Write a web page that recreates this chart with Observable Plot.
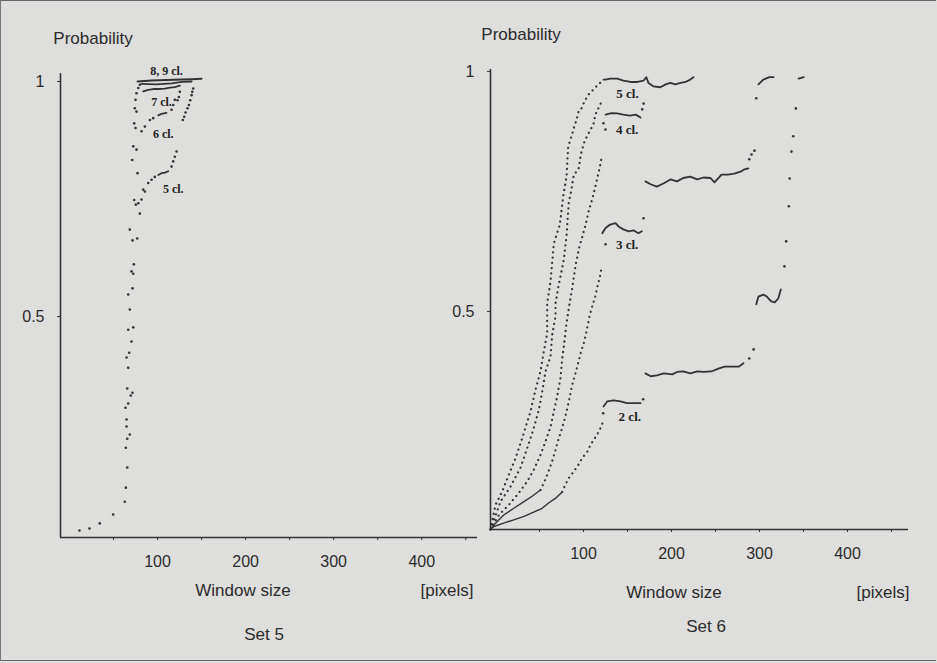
<!DOCTYPE html>
<html><head><meta charset="utf-8">
<script src="https://cdn.jsdelivr.net/npm/d3@7"></script>
<script src="https://cdn.jsdelivr.net/npm/@observablehq/plot@0.6"></script>
<style>
body{margin:0;background:#dededc;}
#page{position:relative;width:935px;height:659px;overflow:hidden;background:#dededc;font-family:"Liberation Sans",Arial,sans-serif;color:#2b2b2b;border-top:1px solid #666;border-left:1px solid #777;border-bottom:1px solid #666;}
#page svg{position:absolute;top:0;}
.lbl{position:absolute;transform:translate(-50%,-50%);font-size:17px;white-space:nowrap;}
</style></head><body><div id="page"></div>
<script>
// ---------- Set 5 (left panel), window size [pixels] vs probability ----------
const s5Stem = [[17,0.045],[28.4,0.049],[40.1,0.06],[55.3,0.079],[68.5,0.106],[69.7,0.136],[71.3,0.179],[69.7,0.221],[71.3,0.24],[74.2,0.249],[70.5,0.266],[70.5,0.281],[69.3,0.306],[72.4,0.315],[75.3,0.332],[77.3,0.338],[71.3,0.347],[72.4,0.391],[70.5,0.413],[73.5,0.423],[76.1,0.447],[72.4,0.472],[78.1,0.477],[74.2,0.515],[72.4,0.547],[77.3,0.56],[78.1,0.591],[76.1,0.596],[78.8,0.611],[77.3,0.662],[82.6,0.666],[74.2,0.685],[85.6,0.719],[81,0.738],[87.5,0.749],[83.8,0.741],[79.2,0.748],[83,0.805],[76.9,0.833],[81.8,0.855],[78.1,0.862],[80.7,0.901],[79.2,0.911],[81.8,0.936],[79.9,0.943],[80.7,0.961],[81.8,0.975],[83.8,0.986],[85.6,0.993]];
const s5Dots5 = [[89.4,0.770],[91.3,0.766],[95.1,0.784],[98.9,0.791],[102.6,0.797],[121.6,0.819],[123.5,0.83],[125.3,0.84],[127.3,0.851]];
const s5Line5 = [[106.5,0.801],[110.2,0.805],[114,0.806],[117.8,0.809]];
const s5Dots6 = [[87.5,0.894],[91.3,0.904],[97,0.918],[100.8,0.922],[121.6,0.94],[123.5,0.95],[125.3,0.961]];
const s5Line6 = [[106.5,0.928],[110.2,0.931],[115.9,0.933]];
const s5Line7 = [[89.4,0.979],[95.1,0.982],[100.8,0.984],[106.5,0.984],[114,0.985],[119.7,0.987],[125.3,0.988],[131,0.991]];
const s5Line8 = [[87.5,0.995],[104.5,0.994],[121.6,0.996],[133,0.999],[144.3,1.0]];
const s5Line9 = [[83,1.0],[98.9,1.002],[115.9,1.003],[133,1.004],[144.3,1.005],[155.7,1.006]];
const s5DotsRight = [[146.2,0.985],[145.1,0.978],[144.3,0.971],[142.8,0.96],[141.3,0.95],[139.8,0.943],[137.5,0.934],[136,0.925],[134.4,0.918],[131,0.978],[129.9,0.967],[128.4,0.96]];
const s5Labels = [["8, 9 cl.",115.9,1.021],["7 cl.",110.2,0.957],["6 cl.",112.2,0.889],["5 cl.",123.5,0.770]];

// ---------- Set 6 (right panel) ----------
const s6Rise1 = [[0,0.046],[5.7,0.097],[13.3,0.125],[20.8,0.160],[28.4,0.194],[36,0.236],[45.5,0.292],[51.1,0.337],[56.8,0.375],[60.6,0.417],[64.4,0.455],[64.4,0.517],[68.2,0.5625],[72,0.642],[78.8,0.681],[82.6,0.74],[86.4,0.781],[88.3,0.844],[90.9,0.858],[94.7,0.882],[97.7,0.899],[100.3,0.918],[103.4,0.923],[106.8,0.9375],[111.4,0.952],[114.8,0.958],[118.2,0.965],[123.9,0.975],[128.4,0.983]];
const s6Rise2 = [[0,0.046],[11.4,0.104],[22.7,0.135],[34,0.174],[41.7,0.215],[49.2,0.257],[54.9,0.295],[58.8,0.333],[62.5,0.375],[68.2,0.406],[70.1,0.451],[73.9,0.49],[73.9,0.517],[77.6,0.556],[81.4,0.59],[83.3,0.608],[86.4,0.658],[89,0.729],[90.9,0.743],[94.7,0.785],[100,0.796],[101,0.808],[103.4,0.833],[106.8,0.854],[111.4,0.871],[117,0.89],[118.2,0.902],[120.5,0.917],[123.9,0.927],[126.1,0.9375]];
const s6Rise4cl = [[0,0.046],[9.5,0.076],[20.8,0.097],[32.2,0.122],[41.7,0.146],[49.2,0.170],[56.8,0.201],[62.5,0.229],[68.2,0.26],[72,0.292],[75.8,0.323],[79.5,0.361],[81.4,0.40],[84,0.4375],[86.4,0.476],[89,0.507],[93,0.55],[97,0.6],[101,0.635],[105,0.66],[109,0.6875],[111.4,0.708],[114.8,0.729],[117,0.744],[120.5,0.771],[123.9,0.798],[126.1,0.819]];
const s6Rise3clLow = [[0,0.046],[5.7,0.059],[15,0.076],[26.5,0.09],[38,0.104],[47.3,0.115],[56.8,0.128]];
const s6Rise3clHigh = [[56.8,0.128],[61.4,0.146],[66,0.167],[70,0.1875],[74,0.212],[77.6,0.236],[81.4,0.257],[85,0.281],[89,0.3125],[92.8,0.347],[96.6,0.371],[100,0.396],[103,0.417],[106,0.434],[108.7,0.455],[110.6,0.472],[112.8,0.493],[115.5,0.51],[119,0.531],[122,0.556],[124,0.569],[126,0.59]];
const s6Rise2clLow = [[0,0.046],[3.8,0.052],[15,0.059],[26.5,0.066],[38,0.073],[49,0.082],[58.7,0.09],[66,0.101],[74,0.111],[81.4,0.124]];
const s6Rise2clHigh = [[81.4,0.124],[85,0.139],[89,0.153],[94.7,0.167],[100,0.181],[104,0.194],[110,0.208],[113.6,0.222],[117.4,0.233],[121,0.243],[125,0.257],[128,0.271]];
const s6Plat2a = [[128.4,0.302],[132.6,0.3125],[140,0.3146],[147.7,0.3125],[155,0.309],[162.5,0.309],[170.5,0.309]];
const s6Plat2b = [[176,0.371],[182,0.365],[189,0.367],[197,0.371],[206.5,0.369],[212,0.374],[219,0.375],[227,0.371],[235,0.375],[242,0.374],[251,0.375],[259,0.381],[266,0.385],[274,0.385],[282,0.385],[287.5,0.392]];
const s6Plat2c = [[302,0.515],[304.5,0.531],[310,0.535],[314,0.531],[319,0.521],[323,0.519],[327,0.527],[330,0.546]];
const s6Plat2d = [[350,0.985],[356,0.988]];
const s6Plat3a = [[127,0.663],[130.7,0.674],[136,0.681],[142,0.684],[145.5,0.677],[151,0.671],[157,0.667],[162.5,0.669],[168,0.663],[172,0.667]];
const s6Plat3b = [[176,0.771],[182,0.765],[189,0.76],[197,0.767],[204.5,0.775],[212,0.771],[219,0.778],[227,0.781],[235,0.775],[242,0.779],[250,0.778],[254.5,0.769],[262.5,0.785],[270,0.785],[277,0.787],[285,0.792],[288.6,0.796],[293,0.798]];
const s6Plat3c = [[304.5,0.973],[310,0.983],[317,0.988],[321.6,0.988]];
const s6Plat4 = [[130.7,0.91],[137.5,0.913],[144,0.9125],[151,0.91],[158,0.908],[165,0.91],[170.5,0.904]];
const s6Plat5 = [[128.4,0.983],[130.7,0.983],[136,0.985],[144,0.985],[151,0.981],[159,0.978],[167,0.978],[174,0.981],[177,0.988],[179.5,0.976],[185,0.969],[193,0.967],[199,0.973],[204.5,0.976],[210,0.973],[216,0.976],[221.6,0.978],[227,0.983],[230.7,0.988]];
const s6Dots = [[128,0.288],[173.5,0.317],[294,0.402],[299,0.421],[334,0.594],[336,0.646],[339,0.719],[340,0.777],[342,0.833],[344,0.865],[347,0.923],[130.7,0.64],[174,0.694],[294,0.817],[296.6,0.827],[300,0.835],[302,0.944],[128.4,0.892],[130.7,0.879],[172.4,0.921],[174,0.933]];
const s6Labels = [["5 cl.",155.7,0.954],["4 cl.",155.3,0.878],["3 cl.",155.3,0.639],["2 cl.",158.3,0.281]];

const xTicks = [50,100,150,200,250,300,350,400,450];
const xTickLabels = ["","100","","200","","300","","400",""];
const yTicks = [0.5, 1];
const yTickLabels = ["0.5","1"];

const INK = "#333";
const X = d => d[0], Y = d => d[1];
const solid = (a, w=1.8) => Plot.line(a, {x: X, y: Y, stroke: INK, strokeWidth: w, curve: "linear"});
const dotted = (a) => Plot.line(a, {x: X, y: Y, stroke: INK, strokeWidth: 2.2, strokeDasharray: "0.1 5.2", strokeLinecap: "round"});
const dots = (a) => Plot.dot(a, {x: X, y: Y, r: 1.3, fill: INK, stroke: "none"});

function panel({width, marginLeft, marginRight, marginTop, marginBottom, xDomain, yDomain, marks}) {
  const [x0, x1] = xDomain, [y0, y1] = yDomain;
  return Plot.plot({
    width, height: 663, marginLeft, marginRight, marginTop, marginBottom,
    x: {domain: xDomain}, y: {domain: yDomain},
    style: {background: "transparent", overflow: "visible", fontFamily: "Liberation Sans, Arial, sans-serif", color: "#2b2b2b"},
    marks: [
      Plot.ruleX([x0], {y1: y0, y2: y1, stroke: INK, strokeWidth: 1.6}),
      Plot.ruleY([y0], {x1: x0, x2: x1, stroke: INK, strokeWidth: 1.6}),
      Plot.axisX({ticks: xTicks, tickFormat: d => xTickLabels[xTicks.indexOf(d)], tickSize: 3, tickPadding: 15, fontSize: 16, fill: "#2b2b2b", stroke: INK, dx: 5}),
      Plot.axisY({ticks: yTicks, tickFormat: d => yTickLabels[yTicks.indexOf(d)], tickSize: 3, tickPadding: 13, fontSize: 16, fill: "#2b2b2b", stroke: INK}),
      ...marks
    ]
  });
}

const left = panel({
  width: 480, marginLeft: 59, marginRight: 4, marginTop: 72, marginBottom: 127,
  xDomain: [-4.5, 469], yDomain: [0.03, 1.017],
  marks: [
    dots(s5Stem), dots(s5Dots5), solid(s5Line5), dots(s5Dots6), solid(s5Line6),
    solid(s5Line7), solid(s5Line8), solid(s5Line9, 2), dots(s5DotsRight),
    Plot.text(s5Labels, {x: d => d[1], y: d => d[2], text: d => d[0], fontFamily: "Liberation Serif, serif", fontWeight: "bold", fontSize: 12, fill: "#222"})
  ]
});
left.style.left = "0px";

const right = panel({
  width: 517, marginLeft: 69, marginRight: 30, marginTop: 68, marginBottom: 135,
  xDomain: [0, 475], yDomain: [0.0458, 1.004],
  marks: [
    dotted(s6Rise1), dotted(s6Rise2), dotted(s6Rise4cl),
    solid(s6Rise3clLow, 1.4), dotted(s6Rise3clHigh),
    solid(s6Rise2clLow, 1.4), dotted(s6Rise2clHigh),
    solid(s6Plat2a), solid(s6Plat2b), solid(s6Plat2c), solid(s6Plat2d),
    solid(s6Plat3a), solid(s6Plat3b), solid(s6Plat3c), solid(s6Plat4), solid(s6Plat5),
    dots(s6Dots),
    Plot.text(s6Labels, {x: d => d[1], y: d => d[2], text: d => d[0], fontFamily: "Liberation Serif, serif", fontWeight: "bold", fontSize: 13, fill: "#222"})
  ]
});
right.style.left = "420px";

const page = document.getElementById("page");
page.appendChild(left);
page.appendChild(right);

const texts = [
  ["Probability", 92, 38], ["Window size", 242, 590], ["[pixels]", 446, 590], ["Set 5", 263, 634],
  ["Probability", 520, 34], ["Window size", 673, 592], ["[pixels]", 882, 592], ["Set 6", 705, 626]
];
for (const [t, x, y] of texts) {
  const d = document.createElement("div");
  d.className = "lbl"; d.textContent = t;
  d.style.left = x + "px"; d.style.top = y + "px";
  page.appendChild(d);
}
</script></body></html>
